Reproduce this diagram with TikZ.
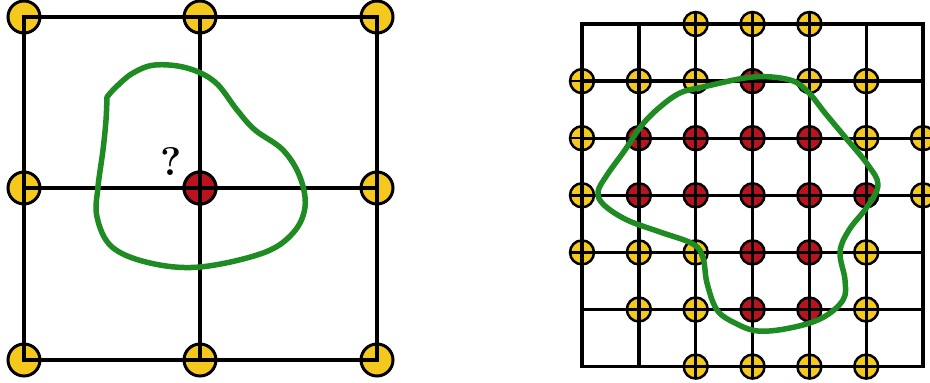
\documentclass[tikz,border=0pt]{standalone}
\definecolor{dotyellow}{RGB}{245,200,30}
\definecolor{dotred}{RGB}{185,20,30}
\definecolor{curvegreen}{RGB}{30,140,35}
\tikzset{
  biggrid/.style={line width=4pt, line join=miter},
  smallgrid/.style={line width=3.3pt, line join=miter},
  bigdot/.style={line width=3pt, draw=black},
  smalldot/.style={line width=2.5pt, draw=black},
  boundary/.style={draw=curvegreen, line width=5.5pt, line join=round, line cap=round},
}
\begin{document}
\begin{tikzpicture}[x=1pt,y=-1pt]
\useasboundingbox (0,0) rectangle (930,383);
\clip (0,0) rectangle (930,383);
\fill[white] (0,0) rectangle (930,383);
% ---------- left grid ----------
\foreach \x in {24,200,377}{
  \foreach \y in {17,188,360}{
    \filldraw[bigdot, fill=dotyellow] (\x,\y) circle (16);
  }
}
\filldraw[bigdot, fill=dotred] (200,188) circle (16);
\draw[biggrid] (24,17) rectangle (377,360);
\draw[biggrid] (200,17) -- (200,360);
\draw[biggrid] (24,188) -- (377,188);
\draw[boundary] plot[smooth, tension=0.6] coordinates {(107,97) (116,87) (133,73) (155,65) (187,68) (215,82) (237,110) (255,130) (283,150) (300,177) (305,207) (293,233) (263,253) (200,267) (150,263) (112,247) (97,217) (98,187) (103,150) (106,120) (107,97)};
\node (q) at (171,161) {\fontsize{40}{42}\selectfont\bfseries ?};
% ---------- right grid ----------
\def\rx#1{582+56.85*#1}
\def\ry#1{24+57.1*#1}
\foreach \c/\r/\col in {
  2/0/dotyellow,3/0/dotyellow,4/0/dotyellow,
  0/1/dotyellow,1/1/dotyellow,2/1/dotyellow,3/1/dotred,4/1/dotyellow,5/1/dotyellow,
  0/2/dotyellow,1/2/dotred,2/2/dotred,3/2/dotred,4/2/dotred,5/2/dotyellow,6/2/dotyellow,
  0/3/dotyellow,1/3/dotred,2/3/dotred,3/3/dotred,4/3/dotred,5/3/dotred,6/3/dotyellow,
  0/4/dotyellow,1/4/dotyellow,2/4/dotyellow,3/4/dotred,4/4/dotred,5/4/dotyellow,
  1/5/dotyellow,2/5/dotyellow,3/5/dotred,4/5/dotred,5/5/dotyellow,
  2/6/dotyellow,3/6/dotyellow,4/6/dotyellow,5/6/dotyellow}{
  \filldraw[smalldot, fill=\col] ({\rx{\c}},{\ry{\r}}) circle (12);
  \draw[line width=2.5pt] ({\rx{\c}-11.5},{\ry{\r}}) -- ({\rx{\c}+11.5},{\ry{\r}});
  \draw[line width=2.5pt] ({\rx{\c}},{\ry{\r}-11.5}) -- ({\rx{\c}},{\ry{\r}+11.5});
}
\draw[smallgrid] ({\rx{0}},{\ry{0}}) rectangle ({\rx{6}},{\ry{6}});
\foreach \i in {1,...,5}{
  \draw[smallgrid] ({\rx{\i}},{\ry{0}}) -- ({\rx{\i}},{\ry{6}});
  \draw[smallgrid] ({\rx{0}},{\ry{\i}}) -- ({\rx{6}},{\ry{\i}});
}
\draw[boundary] plot[smooth cycle, tension=0.6] coordinates {(703,87) (753,77) (790,80) (808,92) (825,113) (845,137) (868,165) (878,185) (867,207) (849,230) (840,252) (845,280) (843,300) (822,318) (790,328) (758,331) (735,323) (717,310) (707,283) (703,258) (693,244) (660,232) (627,220) (604,205) (598,192) (607,175) (625,150) (642,125) (660,107) (680,93)};
\end{tikzpicture}
\end{document}
